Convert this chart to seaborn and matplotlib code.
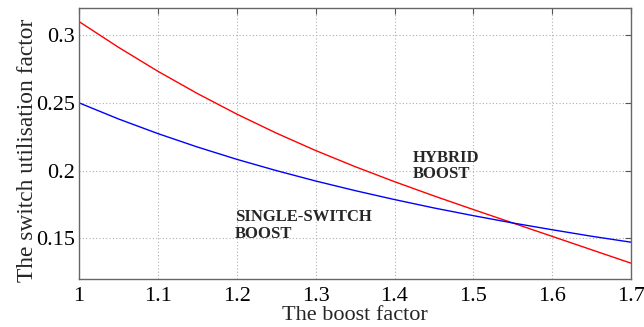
import numpy as np
import pandas as pd
import matplotlib
matplotlib.use("Agg")
import matplotlib.pyplot as plt
import seaborn as sns

boost = [1.00, 1.05, 1.10, 1.15, 1.20, 1.25, 1.30, 1.35, 1.40, 1.45, 1.50, 1.55, 1.60, 1.65, 1.70]
single_switch = [0.2500, 0.2381, 0.2273, 0.2174, 0.2083, 0.2000, 0.1923, 0.1852, 0.1786,
                 0.1724, 0.1667, 0.1613, 0.1563, 0.1515, 0.1471]
hybrid = [0.3100, 0.2910, 0.2733, 0.2569, 0.2417, 0.2277, 0.2148, 0.2029, 0.1918,
          0.1813, 0.1712, 0.1613, 0.1514, 0.1415, 0.1316]
x_ticks = [1.0, 1.1, 1.2, 1.3, 1.4, 1.5, 1.6, 1.7]
x_tick_labels = ["1", "1.1", "1.2", "1.3", "1.4", "1.5", "1.6", "1.7"]
y_ticks = [0.15, 0.2, 0.25, 0.3]
y_tick_labels = ["0.15", "0.2", "0.25", "0.3"]

sns.set_style("white")
plt.rcParams['font.family'] = ['Liberation Serif', 'DejaVu Serif']

df = pd.DataFrame({
    "boost": boost * 2,
    "factor": hybrid + single_switch,
    "series": ["hybrid"] * len(boost) + ["single"] * len(boost),
})

fig = plt.figure(figsize=(6.44, 3.27), dpi=100)
ax = fig.add_axes([0.1227, 0.147, 0.8573, 0.8285])

sns.lineplot(data=df, x="boost", y="factor", hue="series",
             palette={"hybrid": "#ff0000", "single": "#0000ff"},
             linewidth=1.0, legend=False, ax=ax, sort=True)

ax.set_xlim(1.0, 1.7)
ax.set_ylim(0.12, 0.32)
ax.set_xticks(x_ticks)
ax.set_xticklabels(x_tick_labels)
ax.set_yticks(y_ticks)
ax.set_yticklabels(y_tick_labels)
ax.grid(True, linestyle=(0, (1, 2)), color="#b0b0b0", linewidth=0.8)
ax.tick_params(direction="in", length=4, top=True, right=True,
               labelsize=16, colors="#555555", labelcolor="black")
ax.tick_params(axis="y", pad=3)
ax.tick_params(axis="x", pad=6)
for s in ax.spines.values():
    s.set_color("#666666")
    s.set_linewidth(1.0)

ax.set_xlabel("The boost factor", fontsize=16, labelpad=0)
ax.set_ylabel("The switch utilisation factor", fontsize=16.8)
ax.yaxis.set_label_coords(-0.074, 0.475)

ax.text(1.423, 0.2155, "HYBRID\nBOOST", fontsize=12, fontweight="bold",
        va="top", ha="left", linespacing=1.05)
ax.text(1.198, 0.1715, "SINGLE-SWITCH\nBOOST", fontsize=12, fontweight="bold",
        va="top", ha="left", linespacing=1.05)

fig.savefig("out.png", dpi=100)
